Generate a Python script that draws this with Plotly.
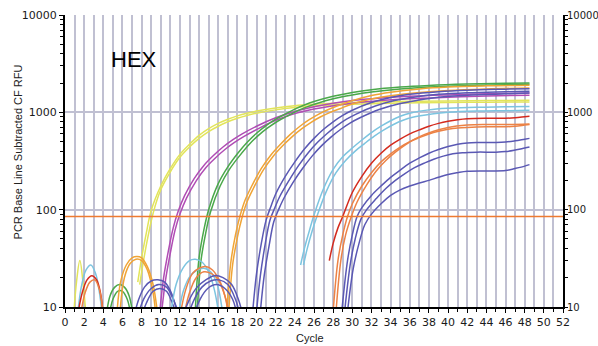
import plotly.graph_objects as go

# ---------------- data ----------------
x_tick_vals = list(range(0, 53, 2))
y_tick_vals = [10, 100, 1000, 10000]
threshold = 85
threshold_x = [0, 52]

# Yellow pair
yellow_a_noise_x = [0.9, 1.2, 1.55, 1.9, 2.2]
yellow_a_noise_y = [8, 18, 30, 17, 8]
yellow_a_x = [7.6, 8, 8.5, 9, 10, 11, 12, 13, 14, 15, 16, 17, 18, 19, 20, 22, 24, 26, 28, 30, 34, 40, 44, 48.5]
yellow_a_y = [18, 32, 58, 98, 175, 265, 370, 470, 580, 680, 770, 850, 920, 980, 1030, 1110, 1170, 1210, 1240, 1260, 1290, 1310, 1320, 1330]
yellow_b_x = [7.8, 8.2, 8.7, 9.2, 10, 11, 12, 13, 14, 15, 16, 17, 18, 19, 20, 22, 24, 26, 28, 30, 34, 40, 44, 48.5]
yellow_b_y = [17, 30, 55, 92, 160, 245, 345, 440, 540, 635, 720, 800, 870, 930, 980, 1060, 1120, 1160, 1190, 1210, 1240, 1260, 1270, 1280]

# Magenta pair
magenta_a_x = [9.9, 10.3, 10.8, 11.3, 11.8, 12.5, 13.5, 14.5, 15.5, 16.5, 17.5, 18.5, 20, 22, 24, 26, 28, 30, 33, 36, 40, 44, 48.5]
magenta_a_y = [9, 20, 38, 65, 95, 140, 210, 285, 360, 440, 520, 600, 720, 880, 1020, 1140, 1240, 1320, 1400, 1460, 1510, 1550, 1580]
magenta_b_x = [10.1, 10.5, 11, 11.5, 12, 12.7, 13.7, 14.7, 15.7, 16.7, 17.7, 18.7, 20.2, 22, 24, 26, 28, 30, 33, 36, 40, 44, 48.5]
magenta_b_y = [9, 19, 36, 62, 90, 132, 198, 270, 340, 415, 490, 565, 680, 830, 970, 1080, 1170, 1240, 1320, 1380, 1430, 1470, 1500]

# Green pair
green_a_noise_x = [4.3, 4.7, 5.2, 5.7, 6.2, 6.7, 7.1]
green_a_noise_y = [8, 13, 16, 17, 16, 13, 8]
green_a_x = [13.6, 14, 14.5, 15, 16, 17, 18, 19, 20, 21, 22, 23, 24, 25, 26, 28, 30, 32, 35, 38, 42, 46, 48.5]
green_a_y = [9, 32, 62, 100, 185, 275, 375, 490, 610, 730, 850, 960, 1080, 1190, 1290, 1460, 1600, 1710, 1820, 1890, 1950, 1990, 2000]
green_b_noise_x = [4.6, 5.0, 5.5, 6.0, 6.5, 6.9]
green_b_noise_y = [8, 12, 14.5, 14.5, 12, 8]
green_b_x = [13.8, 14.2, 14.7, 15.2, 16.2, 17.2, 18.2, 19.2, 20.2, 21.2, 22.2, 23.2, 24.2, 25.2, 26.2, 28, 30, 32, 35, 38, 42, 46, 48.5]
green_b_y = [9, 30, 58, 95, 175, 262, 355, 465, 580, 695, 810, 915, 1030, 1130, 1225, 1380, 1510, 1620, 1740, 1820, 1880, 1920, 1940]

# Orange pair
orange_a_noise_x = [5.4, 5.8, 6.4, 7.0, 7.5, 8.0, 8.6, 9.2, 9.7]
orange_a_noise_y = [8, 18, 27, 32, 33, 32, 26, 17, 8]
orange_a_x = [16.9, 17.3, 17.8, 18.3, 18.8, 19.5, 20.5, 21.5, 22.5, 23.5, 24.5, 25.5, 26.5, 27.5, 28.5, 30, 32, 34, 37, 40, 44, 48.5]
orange_a_y = [9, 28, 55, 88, 125, 175, 265, 365, 470, 590, 715, 840, 960, 1070, 1170, 1320, 1490, 1610, 1740, 1820, 1870, 1900]
orange_b_noise_x = [5.7, 6.2, 6.8, 7.4, 8.0, 8.6, 9.2, 9.5]
orange_b_noise_y = [8, 20, 28, 31, 30, 24, 14, 8]
orange_b_x = [17.1, 17.5, 18, 18.5, 19, 19.7, 20.7, 21.7, 22.7, 23.7, 24.7, 25.7, 26.7, 27.7, 28.7, 30, 32, 34, 37, 40, 44, 48.5]
orange_b_y = [9, 27, 52, 84, 120, 168, 255, 350, 450, 560, 675, 790, 900, 1000, 1090, 1220, 1370, 1480, 1600, 1680, 1740, 1780]

# Dark blue triplet (early)
blue_a_noise_x = [7.2, 7.7, 8.3, 9.0, 9.7, 10.4, 11.1, 11.8]
blue_a_noise_y = [8, 12, 16, 18.5, 19, 18, 14, 8]
blue_b_noise_x = [8.0, 8.5, 9.2, 9.9, 10.6, 11.2, 11.7]
blue_b_noise_y = [8, 11, 14.5, 15.5, 14.5, 11, 8]
blue_c_noise_x = [7.6, 8.2, 9.0, 9.8, 10.6, 11.3, 12.0]
blue_c_noise_y = [8, 12, 15.5, 17, 16, 12, 8]
blue_a_x = [19.6, 20, 20.5, 21, 21.5, 22, 23, 24, 25, 26, 27, 28, 29, 30, 32, 34, 36, 39, 42, 46, 48.5]
blue_a_y = [9, 22, 45, 78, 108, 145, 220, 310, 420, 540, 670, 800, 930, 1050, 1260, 1420, 1530, 1630, 1690, 1730, 1750]
blue_b_x = [20.0, 20.4, 20.9, 21.4, 21.9, 22.4, 23.4, 24.4, 25.4, 26.4, 27.4, 28.4, 29.4, 30.4, 32.4, 34.4, 36.4, 39, 42, 46, 48.5]
blue_b_y = [9, 21, 44, 78, 104, 135, 200, 285, 385, 495, 610, 730, 850, 960, 1160, 1320, 1430, 1530, 1590, 1630, 1650]
blue_c_x = [20.4, 20.8, 21.3, 21.8, 22.3, 22.8, 23.8, 24.8, 25.8, 26.8, 27.8, 28.8, 29.8, 30.8, 32.8, 34.8, 36.8, 39, 42, 46, 48.5]
blue_c_y = [9, 21, 42, 75, 100, 128, 190, 265, 355, 455, 560, 670, 780, 880, 1070, 1220, 1330, 1430, 1500, 1550, 1580]

# Light cyan pair
cyan_a_noise1_x = [1.3, 1.7, 2.2, 2.7, 3.2, 3.6, 3.9]
cyan_a_noise1_y = [8, 16, 24, 27, 22, 14, 8]
cyan_a_noise2_x = [11.0, 11.6, 12.3, 13.0, 13.6, 14.3, 15.0, 15.6, 16.1]
cyan_a_noise2_y = [8, 17, 25, 30, 31, 29, 23, 15, 8]
cyan_b_noise_x = [11.8, 12.4, 13.1, 13.8, 14.5, 15.2, 15.9, 16.5]
cyan_b_noise_y = [8, 15, 21, 24, 25, 23, 17, 8]
cyan_a_x = [24.6, 25, 25.5, 26, 27, 28, 29, 30, 31, 32, 33, 34, 35, 36, 38, 40, 43, 46, 48.5]
cyan_a_y = [27, 40, 60, 88, 165, 260, 350, 430, 520, 620, 720, 820, 910, 980, 1060, 1100, 1130, 1140, 1150]
cyan_b_x = [24.9, 25.3, 25.8, 26.3, 27.3, 28.3, 29.3, 30.3, 31.3, 32.3, 33.3, 34.3, 35.3, 36.3, 38.3, 40, 43, 46, 48.5]
cyan_b_y = [27, 40, 60, 85, 155, 240, 320, 400, 480, 570, 660, 750, 830, 890, 960, 1000, 1030, 1040, 1050]

# Red / orange-red triplet
red_noise_x = [1.3, 1.8, 2.3, 2.8, 3.3, 3.7, 4.0]
red_noise_y = [8, 14, 19, 21, 19, 14, 8]
red_x = [27.6, 28, 28.5, 29, 30, 31, 32, 33, 34, 35, 36, 37, 38, 39, 40, 41, 42, 44, 46, 47, 48, 48.5]
red_y = [30, 45, 65, 85, 150, 220, 300, 380, 460, 530, 600, 660, 720, 770, 810, 840, 860, 870, 870, 880, 900, 910]
ored_a_noise_x = [12.0, 12.6, 13.3, 14.0, 14.7, 15.4, 16.1, 16.7, 17.1]
ored_a_noise_y = [8, 15, 22, 25, 26, 24, 19, 13, 8]
ored_a_x = [28, 28.5, 29, 29.5, 30, 31, 32, 33, 34, 35, 36, 37, 38, 39, 40, 41, 42, 44, 46, 47, 48, 48.5]
ored_a_y = [9, 30, 55, 85, 115, 175, 240, 310, 375, 440, 500, 550, 600, 640, 670, 690, 700, 710, 710, 720, 740, 750]
ored_b_noise1_x = [1.6, 2.1, 2.6, 3.1, 3.6, 4.0]
ored_b_noise1_y = [8, 14, 18, 19, 15, 8]
ored_b_noise2_x = [12.4, 13.0, 13.7, 14.5, 15.3, 16.0, 16.7, 17.2]
ored_b_noise2_y = [8, 14, 20, 23, 22, 19, 13, 8]
ored_b_x = [28.3, 28.8, 29.3, 29.9, 30.5, 31.5, 32.5, 33.5, 34.5, 35.5, 36.5, 37.5, 38.5, 40, 42, 44, 46, 48.5]
ored_b_y = [9, 30, 55, 85, 120, 180, 250, 320, 390, 460, 530, 590, 640, 700, 740, 750, 750, 760]

# Late blue triplet
late_a_noise_x = [12.3, 13.0, 13.8, 14.7, 15.6, 16.5, 17.4, 18.1, 18.6]
late_a_noise_y = [8, 12, 16, 19, 21, 20, 17, 12, 8]
late_b_noise_x = [12.8, 13.5, 14.3, 15.2, 16.1, 17.0, 17.8, 18.3]
late_b_noise_y = [8, 12, 16, 18.5, 19, 17, 12, 8]
late_c_noise_x = [13.4, 14.1, 14.9, 15.8, 16.7, 17.5, 18.0]
late_c_noise_y = [8, 12, 15.5, 17, 15.5, 12, 8]
late_a_x = [28.9, 29.5, 30, 30.5, 31, 32, 33, 34, 35, 36, 37, 38, 39, 40, 41, 42, 43, 45, 46, 47, 48, 48.5]
late_a_y = [9, 30, 55, 85, 105, 140, 175, 215, 255, 300, 340, 380, 415, 445, 470, 485, 490, 490, 495, 510, 530, 540]
late_b_x = [29.2, 29.8, 30.3, 30.9, 31.5, 32.5, 33.5, 34.5, 35.5, 36.5, 37.5, 38.5, 39.5, 40.5, 41.5, 43, 45, 46, 47, 48, 48.5]
late_b_y = [9, 28, 50, 80, 100, 130, 165, 200, 235, 270, 300, 330, 355, 375, 385, 390, 390, 395, 410, 430, 440]
late_c_x = [29.5, 30.1, 30.7, 31.3, 32, 33, 34, 35, 36, 37, 38, 39, 40, 41, 42, 44, 46, 47, 48, 48.5]
late_c_y = [9, 25, 45, 70, 90, 115, 140, 160, 175, 188, 200, 215, 230, 240, 248, 250, 252, 265, 280, 290]

# ---------------- styling ----------------
YELLOW = "#e2e45a"
MAGENTA = "#b04cb4"
GREEN = "#4aa84a"
ORANGE = "#f0a436"
NAVY = "#5a58b4"
CYAN = "#7cc4e0"
RED = "#d42a1e"
ORED = "#ec8246"
GRID = "#c0c0d2"

curves = [
    (YELLOW, [(yellow_a_noise_x, yellow_a_noise_y), (yellow_a_x, yellow_a_y)]),
    (YELLOW, [(yellow_b_x, yellow_b_y)]),
    (MAGENTA, [(magenta_a_x, magenta_a_y)]),
    (MAGENTA, [(magenta_b_x, magenta_b_y)]),
    (GREEN, [(green_a_noise_x, green_a_noise_y), (green_a_x, green_a_y)]),
    (GREEN, [(green_b_noise_x, green_b_noise_y), (green_b_x, green_b_y)]),
    (ORANGE, [(orange_a_noise_x, orange_a_noise_y), (orange_a_x, orange_a_y)]),
    (ORANGE, [(orange_b_noise_x, orange_b_noise_y), (orange_b_x, orange_b_y)]),
    (NAVY, [(blue_a_noise_x, blue_a_noise_y), (blue_a_x, blue_a_y)]),
    (NAVY, [(blue_b_noise_x, blue_b_noise_y), (blue_b_x, blue_b_y)]),
    (NAVY, [(blue_c_noise_x, blue_c_noise_y), (blue_c_x, blue_c_y)]),
    (CYAN, [(cyan_a_noise1_x, cyan_a_noise1_y), (cyan_a_noise2_x, cyan_a_noise2_y), (cyan_a_x, cyan_a_y)]),
    (CYAN, [(cyan_b_noise_x, cyan_b_noise_y), (cyan_b_x, cyan_b_y)]),
    (RED, [(red_noise_x, red_noise_y), (red_x, red_y)]),
    (ORED, [(ored_a_noise_x, ored_a_noise_y), (ored_a_x, ored_a_y)]),
    (ORED, [(ored_b_noise1_x, ored_b_noise1_y), (ored_b_noise2_x, ored_b_noise2_y), (ored_b_x, ored_b_y)]),
    (NAVY, [(late_a_noise_x, late_a_noise_y), (late_a_x, late_a_y)]),
    (NAVY, [(late_b_noise_x, late_b_noise_y), (late_b_x, late_b_y)]),
    (NAVY, [(late_c_noise_x, late_c_noise_y), (late_c_x, late_c_y)]),
]

fig = go.Figure()

for color, segments in curves:
    xs, ys = [], []
    for sx, sy in segments:
        if xs:
            xs.append(None)
            ys.append(None)
        xs.extend(sx)
        ys.extend(sy)
    fig.add_trace(go.Scatter(
        x=xs, y=ys, mode="lines", connectgaps=False,
        line=dict(color=color, width=1.5, shape="spline", smoothing=1.0),
        hoverinfo="skip", showlegend=False,
    ))

# threshold line
fig.add_trace(go.Scatter(
    x=threshold_x, y=[threshold, threshold], mode="lines",
    line=dict(color="#ee7a30", width=1.5), hoverinfo="skip", showlegend=False,
))

# helper trace for right axis
fig.add_trace(go.Scatter(
    x=threshold_x, y=[threshold, threshold], mode="lines", yaxis="y2",
    line=dict(color="rgba(0,0,0,0)", width=0), hoverinfo="skip", showlegend=False,
))

tick_font = dict(family="DejaVu Sans", size=11, color="#1a1a1a")
right_tick_font = dict(family="DejaVu Sans", size=10, color="#1a1a1a")

fig.update_layout(
    width=598, height=346,
    margin=dict(l=65, r=35, t=15, b=39, autoexpand=False),
    paper_bgcolor="white", plot_bgcolor="white",
    xaxis=dict(
        range=[0, 52], tickvals=x_tick_vals, ticktext=[str(v) for v in x_tick_vals],
        showgrid=True, gridcolor=GRID, gridwidth=2,
        minor=dict(dtick=1, tick0=0, showgrid=True, gridcolor=GRID, gridwidth=2,
                   ticks="outside", ticklen=3, tickcolor="black"),
        ticks="outside", ticklen=4, tickcolor="black", tickwidth=1,
        showline=True, linecolor="black", linewidth=2, zeroline=False,
        tickfont=tick_font, automargin=False,
    ),
    yaxis=dict(
        type="log", range=[1, 4], tickvals=y_tick_vals,
        ticktext=[str(v) for v in y_tick_vals],
        showgrid=True, gridcolor=GRID, gridwidth=2,
        minor=dict(dtick="D1", ticks="outside", ticklen=3, tickcolor="black", showgrid=False),
        ticks="outside", ticklen=4, tickcolor="black",
        showline=True, linecolor="black", linewidth=2, zeroline=False,
        tickfont=tick_font, ticklabelstandoff=0, automargin=False,
    ),
    yaxis2=dict(
        type="log", range=[1, 4], overlaying="y", side="right",
        tickvals=y_tick_vals, ticktext=[str(v) for v in y_tick_vals],
        showgrid=False,
        minor=dict(dtick="D1", ticks="outside", ticklen=3, tickcolor="black", showgrid=False),
        ticks="outside", ticklen=3, tickcolor="black",
        showline=True, linecolor="black", linewidth=2, zeroline=False,
        tickfont=right_tick_font, ticklabelstandoff=-3, automargin=False,
    ),
    annotations=[
        dict(text="HEX", x=7.2, y=3.54, xref="x", yref="y", showarrow=False,
             font=dict(family="Liberation Sans", size=22, color="black")),
        dict(text="PCR Base Line Subtracted CF RFU", x=-0.094, y=0.53,
             xref="paper", yref="paper", xanchor="center", yanchor="middle",
             textangle=-90, showarrow=False,
             font=dict(family="Liberation Sans", size=11, color="#222222")),
        dict(text="Cycle", x=0.492, y=-0.133, xref="paper", yref="paper",
             xanchor="center", yanchor="bottom", showarrow=False,
             font=dict(family="Liberation Sans", size=11, color="#222222")),
    ],
)

fig.write_html(
    "out.html",
    config={"displayModeBar": False},
    post_script="document.body.style.margin='0';document.body.style.overflow='hidden';",
)
